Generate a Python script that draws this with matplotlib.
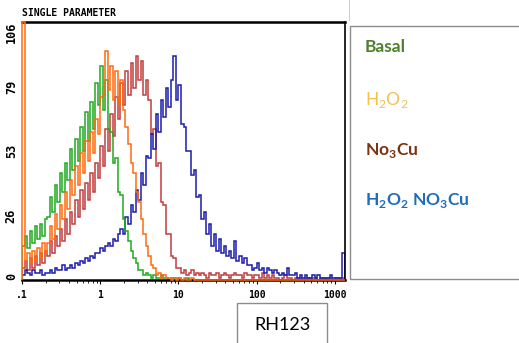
import numpy as np
import matplotlib
matplotlib.use('Agg')
from matplotlib import pyplot as plt
from matplotlib.patches import Rectangle
from matplotlib.ticker import NullFormatter

plt.rcParams['mathtext.fontset'] = 'custom'
plt.rcParams['mathtext.rm'] = 'Lato'
plt.rcParams['mathtext.bf'] = 'Lato:bold'

# channel scale of the cytometer (log, 128 bins)
channelMin = 0.1
channelMax = 1350
nChannels = 128

# counts per channel
basal = [14, 18, 13, 20, 15, 22, 17, 23, 18, 25,
         26, 34, 28, 39, 32, 44, 36, 48, 41, 54,
         45, 58, 49, 63, 53, 69, 57, 73, 62, 81,
         72, 88, 70, 82, 62, 61, 48, 50, 36, 35,
         25, 20, 16, 12, 9, 7, 4, 4, 2, 3,
         2, 1, 2, 1, 1, 2, 1, 1, 0, 1,
         1, 0, 1, 0, 0, 1, 0, 0, 0, 0] + [0] * 58

h2o2 = [106, 8, 11, 7, 12, 8, 13, 9, 15, 11,
        15, 22, 17, 27, 21, 31, 25, 36, 29, 41,
        35, 47, 39, 52, 44, 57, 49, 61, 52, 66,
        60, 75, 76, 94, 78, 88, 74, 86, 72, 82,
        70, 63, 56, 48, 44, 36, 32, 25, 19, 14,
        10, 6, 5, 2, 3, 1, 2, 1, 1, 0,
        1, 0, 1, 0, 1, 0, 0, 1, 0, 0] + [0] * 58

no3cu = [5, 8, 4, 9, 5, 10, 6, 11, 7, 12,
         10, 16, 11, 18, 14, 21, 16, 25, 19, 28,
         23, 33, 26, 37, 29, 40, 33, 44, 36, 48,
         42, 55, 47, 62, 53, 68, 59, 75, 66, 81,
         72, 86, 76, 89, 79, 92, 82, 90, 76, 82,
         74, 60, 62, 47, 48, 32, 31, 19, 19, 10,
         9, 5, 5, 3, 4, 2, 3, 4, 2, 3,
         2, 3, 2, 1, 3, 2, 2, 3, 1, 2,
         3, 2, 1, 2, 3, 2, 2, 1, 3, 2,
         2, 1, 2, 2, 1, 3, 1, 2, 1, 2,
         1, 1, 0, 1, 2, 1, 1, 0, 1, 1,
         1, 0, 1, 1, 0, 1, 1, 0, 1, 1,
         0, 1, 1, 0, 1, 1, 0, 1]

h2o2No3cu = [2, 4, 3, 2, 4, 3, 3, 4, 2, 3,
             3, 4, 3, 5, 4, 4, 6, 4, 5, 6,
             5, 7, 6, 8, 7, 9, 8, 10, 9, 11,
             11, 13, 12, 14, 15, 14, 17, 16, 19, 21,
             19, 26, 23, 31, 28, 37, 33, 44, 39, 51,
             50, 60, 54, 68, 61, 74, 67, 79, 71, 82,
             92, 74, 80, 64, 63, 53, 53, 43, 45, 34,
             35, 25, 28, 19, 23, 14, 19, 12, 17, 11,
             14, 10, 12, 9, 16, 8, 10, 7, 9, 6,
             6, 4, 5, 7, 4, 5, 3, 5, 4, 3,
             4, 3, 2, 3, 2, 5, 2, 2, 3, 1,
             2, 1, 2, 1, 1, 2, 1, 2, 1, 1,
             1, 1, 2, 1, 1, 1, 1, 11]

yTicks = [0, 26.5, 53, 79.5, 106]
yTickLabels = ['0', '26', '53', '79', '106']
xTicks = [0.1, 1, 10, 100, 1000]
xTickLabels = ['.1', '1', '10', '100', '1000']

legendLabels = ['Basal', r'H$_2$O$_2$', r'No$_\mathbf{3}$Cu', r'H$_\mathbf{2}$O$_\mathbf{2}$ NO$_\mathbf{3}$Cu']
legendColors = ['#4f7f2f', '#f2c24a', '#7b3412', '#1f6db8']
legendWeights = ['bold', 'normal', 'bold', 'bold']
legendY = [47, 100, 151, 201]

edges = np.logspace(np.log10(channelMin), np.log10(channelMax), nChannels + 1)

fig = plt.figure(figsize=(5.19, 3.43), dpi=100)
ax = fig.add_axes([22 / 519, 1 - 280 / 343, 323 / 519, 258 / 343])

lw = 1.1
ax.stairs(no3cu, edges, color='#b41c1c', lw=lw, alpha=0.85)
ax.stairs(h2o2No3cu, edges, color='#1c1caa', lw=lw)
ax.stairs(h2o2, edges, color='#ff6a10', lw=lw, clip_on=False, zorder=3)
ax.stairs(basal, edges, color='#1faa1f', lw=lw)

ax.set_xscale('log')
ax.set_xlim(channelMin, channelMax)
ax.set_ylim(0, 106)

ax.spines['left'].set_visible(False)
ax.spines['top'].set_linewidth(1.8)
ax.spines['bottom'].set_linewidth(1.8)
ax.spines['right'].set_linewidth(1.2)

monoX = {'family': 'DejaVu Sans Mono', 'weight': 'bold', 'size': 7}
monoY = {'family': 'DejaVu Sans Mono', 'weight': 'bold', 'size': 8.5}
ax.set_xticks(xTicks, xTickLabels, fontdict=monoX)
ax.xaxis.set_minor_formatter(NullFormatter())
ax.tick_params(axis='x', which='major', direction='out', length=3, width=0.8, pad=4)
ax.tick_params(axis='x', which='minor', direction='out', length=2, width=0.6)

ax.set_yticks(yTicks, yTickLabels, fontdict=monoY, rotation=90)
ax.tick_params(axis='y', length=0, pad=3)
ylabels = ax.get_yticklabels()
for lbl in ylabels:
    lbl.set_va('center')
ylabels[0].set_va('bottom')
ylabels[-1].set_va('top')

fig.text(22 / 519, 1 - 13 / 343, 'SINGLE PARAMETER', ha='left', va='center', **monoX)

# legend panel
fig.patches.append(Rectangle((350 / 519, 1 - 279 / 343), 175 / 519, 253 / 343,
                             transform=fig.transFigure, fill=False, ec='#8c8c8c', lw=1))
fig.add_artist(plt.Line2D([349 / 519, 349 / 519], [1 - 20 / 343, 1.0], transform=fig.transFigure,
                          color='#d0d0d0', lw=0.8))
for lab, col, w, y in zip(legendLabels, legendColors, legendWeights, legendY):
    fig.text(365 / 519, 1 - y / 343, lab, color=col, fontsize=12.5, family='Lato',
             weight=w, ha='left', va='center')

# axis name box
fig.patches.append(Rectangle((237 / 519, -0.01), 90 / 519, 40 / 343 + 0.01,
                             transform=fig.transFigure, fill=False, ec='#8c8c8c', lw=1))
fig.text(282 / 519, 1 - 325 / 343, 'RH123', fontsize=13, family='Lato', ha='center', va='center')

fig.savefig('out.png', dpi=100)
